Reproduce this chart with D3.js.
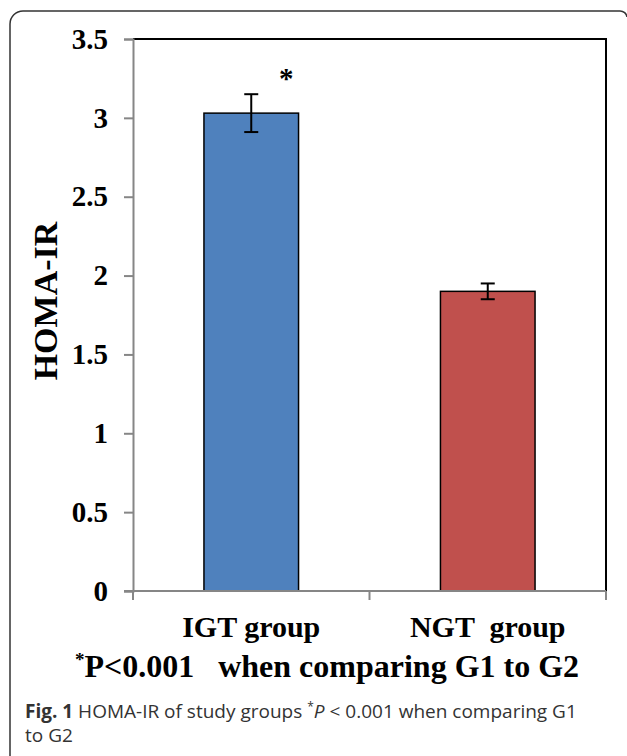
<!DOCTYPE html>
<html>
<head>
<meta charset="utf-8">
<script src="https://cdn.jsdelivr.net/npm/d3@7"></script>
<style>
  html, body { margin: 0; padding: 0; background: #ffffff; }
  text { white-space: pre; }
</style>
</head>
<body>
<div id="chart"></div>
<script>
// data
var groups = ["IGT group", "NGT  group"];
var means = [3.03, 1.90];
var errors = [0.12, 0.05];
var colors = ["#4f81bd", "#c0504d"];
var yTicks = [0, 0.5, 1, 1.5, 2, 2.5, 3, 3.5];
var starGroup = "IGT group";

var width = 627, height = 756;
var margin = {top: 39, left: 133, right: 21, bottom: 165};

var svg = d3.select("#chart").append("svg")
  .attr("width", width)
  .attr("height", height);

// outer figure frame (open on the right/bottom like the crop)
svg.append("path")
  .attr("d", "M10,756 V24 A13,13 0 0 1 23,11 H620 A7,7 0 0 1 627,17")
  .attr("fill", "none")
  .attr("stroke", "#333")
  .attr("stroke-width", 1.5);

var x = d3.scaleBand()
  .domain(groups)
  .range([margin.left, width - margin.right])
  .padding(0);

var y = d3.scaleLinear()
  .domain([0, 3.5])
  .range([height - margin.bottom, margin.top]);

var barFrac = 0.4;
var serif = "'Liberation Serif', 'Times New Roman', serif";

// plot border top / right
svg.append("path")
  .attr("d", "M" + x.range()[0] + "," + y(3.5) + " H" + x.range()[1] + " V" + y(0))
  .attr("fill", "none")
  .attr("stroke", "#000")
  .attr("stroke-width", 2);

// y axis
var yAxis = svg.append("g")
  .attr("transform", "translate(" + margin.left + ",0)")
  .call(d3.axisLeft(y).tickValues(yTicks).tickSize(9).tickPadding(16)
    .tickFormat(function(d){ return String(d); }));
yAxis.select(".domain").attr("stroke", "#868686").attr("stroke-width", 2);
yAxis.selectAll(".tick line").attr("stroke", "#868686").attr("stroke-width", 2);
yAxis.selectAll(".tick text")
  .attr("fill", "#000")
  .style("font-family", serif)
  .style("font-weight", "bold")
  .style("font-size", "29px");

// bars
svg.selectAll("rect.bar")
  .data(groups)
  .enter().append("rect")
  .attr("class", "bar")
  .attr("x", function(d){ return x(d) + x.bandwidth() * (1 - barFrac) / 2; })
  .attr("y", function(d, i){ return y(means[i]); })
  .attr("width", x.bandwidth() * barFrac)
  .attr("height", function(d, i){ return y(0) - y(means[i]); })
  .attr("fill", function(d, i){ return colors[i]; })
  .attr("stroke", "#000")
  .attr("stroke-width", 1.5);

// x axis
var xAxisLine = svg.append("g");
xAxisLine.append("line")
  .attr("x1", margin.left - 9).attr("x2", width - margin.right)
  .attr("y1", y(0)).attr("y2", y(0))
  .attr("stroke", "#868686").attr("stroke-width", 2);
var xTickPos = [x.range()[0]].concat(groups.map(function(d){ return x(d) + x.bandwidth(); }));
xAxisLine.selectAll("line.xt")
  .data(xTickPos)
  .enter().append("line")
  .attr("class", "xt")
  .attr("x1", function(d){ return d; }).attr("x2", function(d){ return d; })
  .attr("y1", y(0)).attr("y2", y(0) + 9)
  .attr("stroke", "#868686").attr("stroke-width", 2);

// error bars
var capW = 14;
var eb = svg.selectAll("g.err")
  .data(groups)
  .enter().append("g")
  .attr("class", "err")
  .attr("stroke", "#000")
  .attr("stroke-width", 2);
eb.append("line")
  .attr("x1", function(d){ return x(d) + x.bandwidth() / 2; })
  .attr("x2", function(d){ return x(d) + x.bandwidth() / 2; })
  .attr("y1", function(d, i){ return y(means[i] + errors[i]); })
  .attr("y2", function(d, i){ return y(means[i] - errors[i]); });
eb.append("line")
  .attr("x1", function(d){ return x(d) + x.bandwidth() / 2 - capW / 2; })
  .attr("x2", function(d){ return x(d) + x.bandwidth() / 2 + capW / 2; })
  .attr("y1", function(d, i){ return y(means[i] + errors[i]); })
  .attr("y2", function(d, i){ return y(means[i] + errors[i]); });
eb.append("line")
  .attr("x1", function(d){ return x(d) + x.bandwidth() / 2 - capW / 2; })
  .attr("x2", function(d){ return x(d) + x.bandwidth() / 2 + capW / 2; })
  .attr("y1", function(d, i){ return y(means[i] - errors[i]); })
  .attr("y2", function(d, i){ return y(means[i] - errors[i]); });

// significance star
var si = groups.indexOf(starGroup);
svg.append("text")
  .attr("x", x(starGroup) + x.bandwidth() / 2 + 35)
  .attr("y", y(means[si] + errors[si]) - 6)
  .attr("text-anchor", "middle")
  .style("font-family", serif)
  .style("font-weight", "bold")
  .style("font-size", "29px")
  .text("*");

// category labels
svg.selectAll("text.cat")
  .data(groups)
  .enter().append("text")
  .attr("class", "cat")
  .attr("x", function(d){ return x(d) + x.bandwidth() / 2; })
  .attr("y", y(0) + 46)
  .attr("text-anchor", "middle")
  .style("font-family", serif)
  .style("font-weight", "bold")
  .style("font-size", "30px")
  .text(function(d){ return d; });

// y axis title
svg.append("text")
  .attr("transform", "translate(57,301) rotate(-90)")
  .attr("text-anchor", "middle")
  .style("font-family", serif)
  .style("font-weight", "bold")
  .style("font-size", "34px")
  .text("HOMA-IR");

// footnote under the chart
var foot = svg.append("text")
  .attr("x", 327)
  .attr("y", 677)
  .attr("text-anchor", "middle")
  .style("font-family", serif)
  .style("font-weight", "bold")
  .style("font-size", "32px");
foot.append("tspan").attr("dy", -11).style("font-size", "19px").text("*");
foot.append("tspan").attr("dy", 11).text("P<0.001   when comparing G1 to G2");

// figure caption
var sans = "'Open Sans', 'Noto Sans', sans-serif";
var cap = svg.append("text")
  .attr("x", 25)
  .attr("y", 718)
  .attr("fill", "#333")
  .style("font-family", sans)
  .style("font-size", "19px");
cap.append("tspan").style("font-weight", "bold").text("Fig. 1");
cap.append("tspan").text(" HOMA-IR of study groups ");
cap.append("tspan").attr("dy", -7).style("font-size", "12px").text("*");
cap.append("tspan").attr("dy", 7).style("font-style", "italic").text("P");
cap.append("tspan").text(" < 0.001 when comparing G1");
svg.append("text")
  .attr("x", 25)
  .attr("y", 742)
  .attr("fill", "#333")
  .style("font-family", sans)
  .style("font-size", "19px")
  .text("to G2");
</script>
</body>
</html>
